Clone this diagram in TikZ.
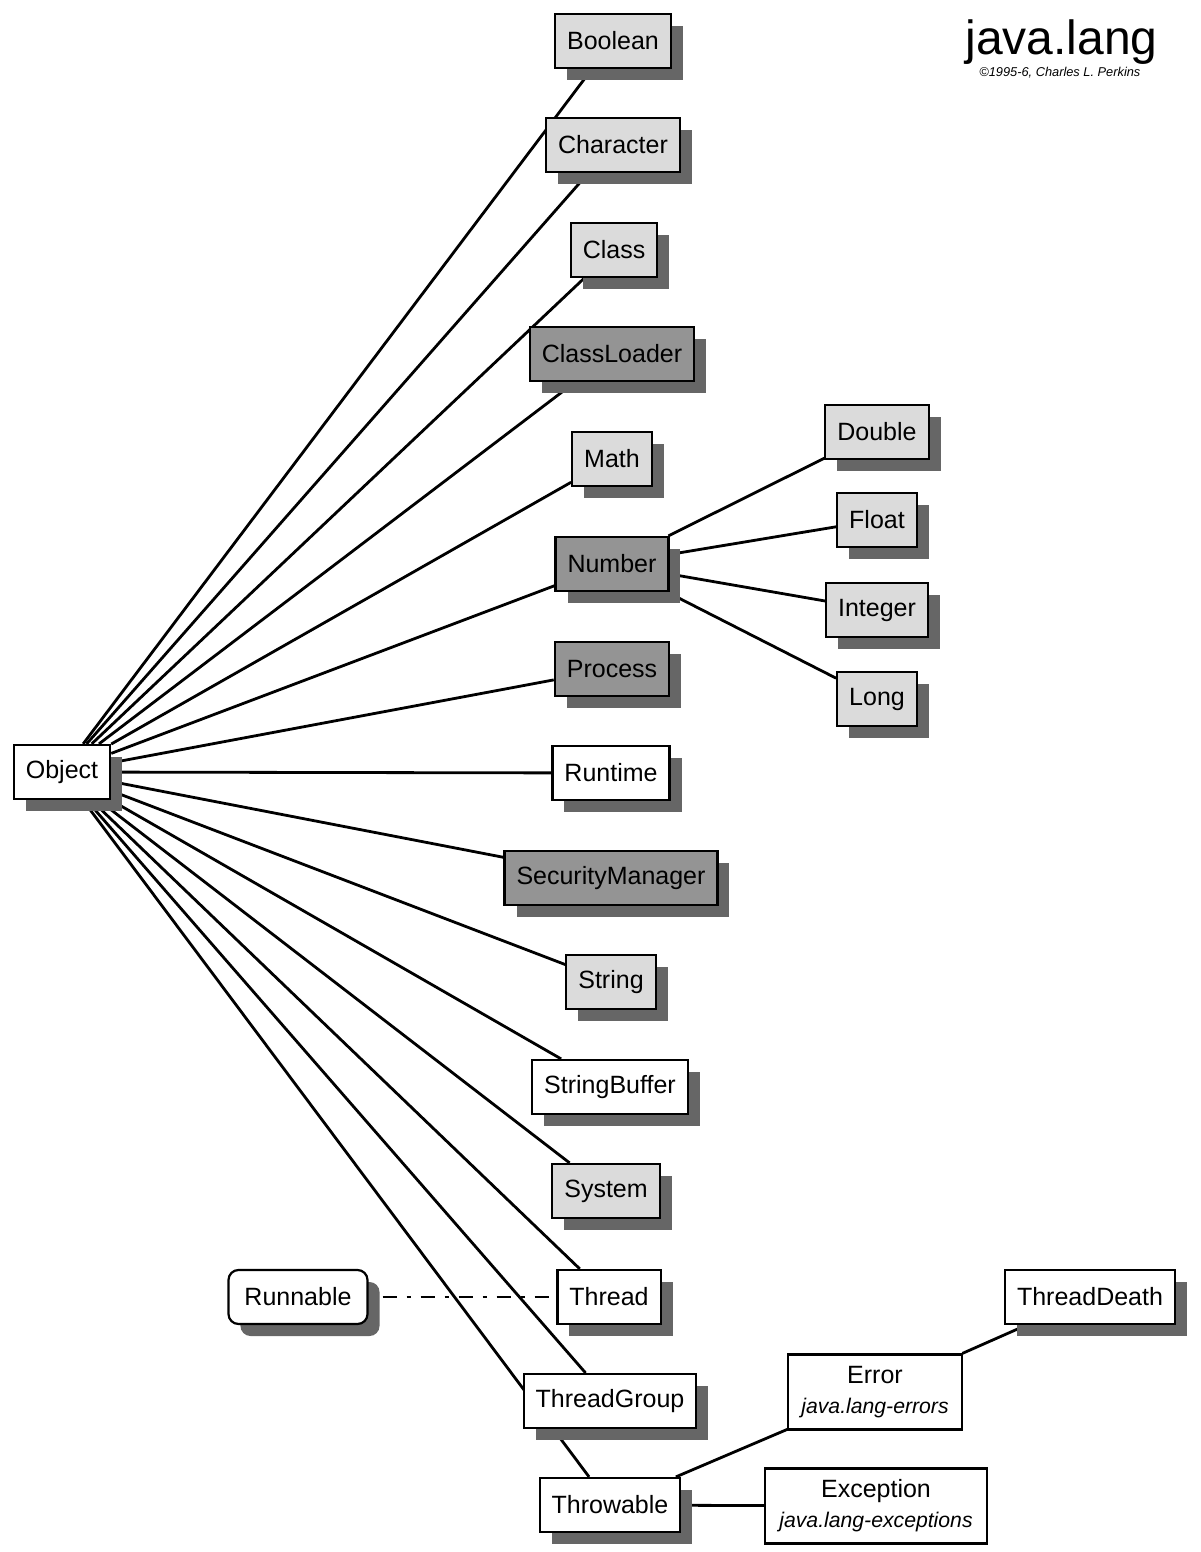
\documentclass[tikz,border=0pt]{standalone}
\usepackage{fontspec}
\setmainfont{Liberation Sans}
\usetikzlibrary{shadows}
\usetikzlibrary{backgrounds}

\begin{document}
\begin{tikzpicture}[x=0.5pt, y=-0.5pt,
        cls/.style={draw, line width=1.1pt, fill=white, minimum height=27pt,
            inner xsep=6pt, inner ysep=0pt, font=\fontsize{12.5}{15}\selectfont,
            drop shadow={shadow xshift=6pt, shadow yshift=-6pt, fill=black!60, opacity=1}},
        light/.style={cls, fill=black!14},
        dark/.style={cls, fill=black!42},
        pkg/.style={draw, line width=1.1pt, fill=white, align=center, minimum height=37.5pt,
            inner xsep=7pt, font=\fontsize{12.5}{15}\selectfont},
        sub/.style={font=\fontsize{10.6}{13}\selectfont\itshape},
        link/.style={line width=1.4pt},
        impl/.style={line width=1.4pt, dash pattern=on 2pt off 5pt on 7pt off 5pt}]
        \useasboundingbox (0,0) rectangle (1200,1552);

        % Title
        \node[anchor=base west, inner sep=0pt, font=\fontsize{24}{28}\selectfont] (title) at (965,55) {java.lang};
        \node[anchor=base west, inner sep=0pt, font=\fontsize{6.4}{8}\selectfont\itshape] (credit) at (979,77) {©1995-6, Charles L. Perkins};

        % Root class
        \node[cls] (object) at (62,772) {Object};

        % Direct subclasses
        \node[light] (boolean) at (613,41) {Boolean};
        \node[light] (character) at (613,145) {Character};
        \node[light] (class) at (614,250) {Class};
        \node[dark] (classloader) at (612,354) {ClassLoader};
        \node[light] (math) at (612,459) {Math};
        \node[dark] (number) at (612,564) {Number};
        \node[dark] (process) at (612,669) {Process};
        \node[cls] (runtime) at (611,773) {Runtime};
        \node[dark] (securitymanager) at (611,878) {SecurityManager};
        \node[light] (string) at (611,982) {String};
        \node[cls] (stringbuffer) at (610,1087) {StringBuffer};
        \node[light] (system) at (606,1191) {System};
        \node[cls] (thread) at (609,1297) {Thread};
        \node[cls] (threadgroup) at (610,1401) {ThreadGroup};
        \node[cls] (throwable) at (610,1505) {Throwable};

        % Interface
        \node[cls, rounded corners=5pt, inner xsep=8pt] (runnable) at (298,1297) {Runnable};

        % Number subclasses
        \node[light] (double) at (877,432) {Double};
        \node[light] (float) at (877,520) {Float};
        \node[light] (integer) at (877,610) {Integer};
        \node[light] (long) at (877,699) {Long};

        % Throwable subclasses
        \node[pkg, inner xsep=6.5pt] (error) at (875,1392) {Error\\{\fontsize{10.6}{13}\selectfont\itshape java.lang-errors}};
        \node[pkg] (exception) at (876,1506) {Exception\\{\fontsize{10.6}{13}\selectfont\itshape java.lang-exceptions}};
        \node[cls] (threaddeath) at (1090,1297) {ThreadDeath};

        % Connectors
        \begin{scope}[on background layer]
            \foreach \c in {boolean,character,class,classloader,math,number,process,runtime,
                securitymanager,string,stringbuffer,system,thread,threadgroup,throwable} {
                \draw[link] (object) -- (\c);
            }
            \foreach \c in {double,float,integer,long} {
                \draw[link] (number) -- (\c);
            }
            \draw[link] (throwable) -- (error);
            \draw[link] (throwable) -- (exception);
            \draw[link] (error) -- (threaddeath);
            \draw[impl] (runnable) -- (thread);
        \end{scope}
    \end{tikzpicture}
\end{document}
